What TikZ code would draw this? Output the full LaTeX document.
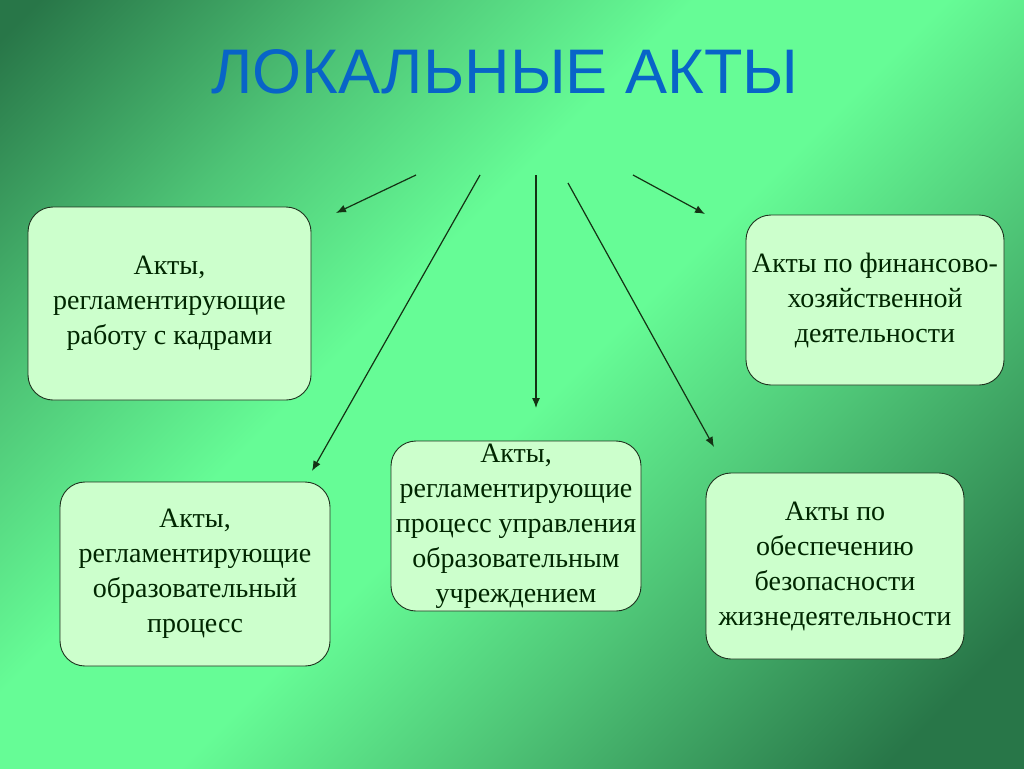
\documentclass[tikz,border=0pt]{standalone}
\usepackage{fontspec}
\setmainfont{Liberation Serif}
\newfontfamily\titlefont{Liberation Sans}
\usetikzlibrary{arrows.meta}

\definecolor{bgdark}{RGB}{40,118,72}
\definecolor{bgmid}{RGB}{78,196,118}
\definecolor{bglight}{RGB}{102,252,150}
\definecolor{boxfill}{RGB}{204,255,204}
\definecolor{boxline}{RGB}{30,50,30}
\definecolor{titleblue}{RGB}{8,100,200}
\definecolor{arrline}{RGB}{20,50,20}

\pgfdeclareverticalshading{fonshade}{100bp}{color(0bp)=(bgdark); color(20bp)=(bgdark);
  color(36bp)=(bgmid); color(48bp)=(bglight); color(58bp)=(bglight);
  color(70bp)=(bgmid); color(84bp)=(bgdark); color(100bp)=(bgdark)}

\tikzset{
  akt/.style={draw=boxline, line width=0.9pt, fill=boxfill, rounded corners=25pt,
    inner sep=0pt, align=center, text=black!85!green,
    font=\fontsize{28}{35}\selectfont},
  strelka/.style={draw=arrline, line width=1.2pt, -{Latex[length=10pt,width=8pt]}}
}

\begin{document}
\begin{tikzpicture}[x=1pt,y=-1pt]
    \useasboundingbox (0,0) rectangle (1024,768);
    \shade[shading=fonshade, shading angle=45] (0,0) rectangle (1024,768);

    \node[anchor=base, text=titleblue, font=\titlefont\fontsize{63}{70}\selectfont] (titul) at (505,93) {ЛОКАЛЬНЫЕ АКТЫ};

    \node[akt, minimum width=283pt, minimum height=193pt] (kadry) at (169.5,303.5)
        {Акты,\\регламентирующие\\работу с кадрами};
    \node[akt, minimum width=270pt, minimum height=184pt] (obrproc) at (195,574)
        {Акты,\\регламентирующие\\образовательный\\процесс};
    \node[akt, minimum width=250pt, minimum height=170pt] (upravl) at (516,526)
        {Акты,\\регламентирующие\\процесс управления\\образовательным\\учреждением};
    \node[akt, minimum width=258pt, minimum height=170pt] (finans) at (875,300)
        {Акты по финансово-\\хозяйственной\\деятельности};
    \node[akt, minimum width=258pt, minimum height=186pt] (bezop) at (835,566)
        {Акты по\\обеспечению\\безопасности\\жизнедеятельности};

    \coordinate (s1) at (416,175);
    \coordinate (e1) at (336,213);
    \coordinate (s2) at (480,175);
    \coordinate (e2) at (312,471);
    \coordinate (s3) at (536,175);
    \coordinate (e3) at (536,408);
    \coordinate (s4) at (568,183);
    \coordinate (e4) at (714,447);
    \coordinate (s5) at (633,175);
    \coordinate (e5) at (705,214);

    \draw[strelka] (s1) -- (e1);
    \draw[strelka] (s2) -- (e2);
    \draw[strelka] (s3) -- (e3);
    \draw[strelka] (s4) -- (e4);
    \draw[strelka] (s5) -- (e5);
\end{tikzpicture}
\end{document}
